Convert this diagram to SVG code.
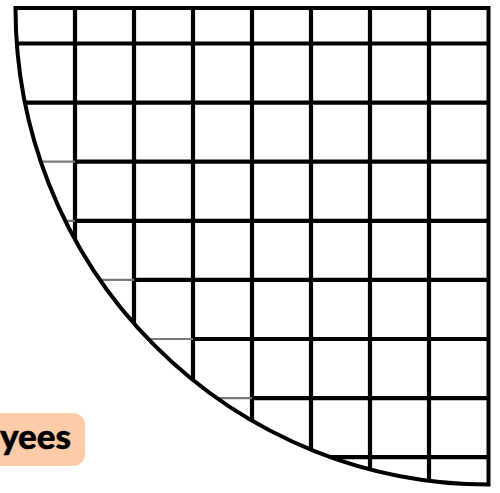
<svg xmlns="http://www.w3.org/2000/svg" width="500" height="493" viewBox="0 0 500 493">
  <style>
    .grid { stroke: #000; stroke-width: 4.2; fill: none; }
    .faint { stroke: #7a7a7a; stroke-width: 2.2; fill: none; }
    .border { stroke: #000; stroke-width: 4; fill: none; stroke-linejoin: miter; }
    .label-box { fill: #FECBA9; }
    .label-text { font-family: Lato, "Open Sans", "DejaVu Sans", sans-serif; font-weight: 900; font-size: 35px; fill: #000; stroke: #000; stroke-width: 0.5; }
  </style>
  <defs>
    <clipPath id="quarter">
      <path d="M15.5 8 H488.5 V484.5 A473 476.5 0 0 1 15.5 8 Z"/>
    </clipPath>
  </defs>
  <rect width="500" height="493" fill="#fff"/>
  <g id="grid" clip-path="url(#quarter)">
    <g class="grid">
      <line x1="75" y1="0" x2="75" y2="493"/>
      <line x1="134" y1="0" x2="134" y2="493"/>
      <line x1="193" y1="0" x2="193" y2="493"/>
      <line x1="252" y1="0" x2="252" y2="493"/>
      <line x1="311" y1="0" x2="311" y2="493"/>
      <line x1="370" y1="0" x2="370" y2="493"/>
      <line x1="429" y1="0" x2="429" y2="493"/>
      <line x1="0" y1="43.5" x2="500" y2="43.5"/>
      <line x1="0" y1="102.6" x2="500" y2="102.6"/>
      <line x1="75" y1="161.7" x2="500" y2="161.7"/>
      <line x1="75" y1="220.8" x2="500" y2="220.8"/>
      <line x1="134" y1="279.9" x2="500" y2="279.9"/>
      <line x1="193" y1="339" x2="500" y2="339"/>
      <line x1="252" y1="398.1" x2="500" y2="398.1"/>
      <line x1="311" y1="457.2" x2="500" y2="457.2"/>
    </g>
    <g class="faint">
      <line x1="0" y1="161.7" x2="75" y2="161.7"/>
      <line x1="0" y1="220.8" x2="75" y2="220.8"/>
      <line x1="0" y1="279.9" x2="134" y2="279.9"/>
      <line x1="0" y1="339" x2="193" y2="339"/>
      <line x1="0" y1="398.1" x2="252" y2="398.1"/>
    </g>
  </g>
  <g id="quarter-outline">
    <path class="border" d="M15.5 8 H488.5 V484.5 A473 476.5 0 0 1 15.5 8 Z"/>
  </g>
  <g id="label">
    <rect class="label-box" x="-30" y="413" width="115" height="53" rx="12" ry="12"/>
    <text class="label-text" x="71" y="449" text-anchor="end">yees</text>
  </g>
</svg>
